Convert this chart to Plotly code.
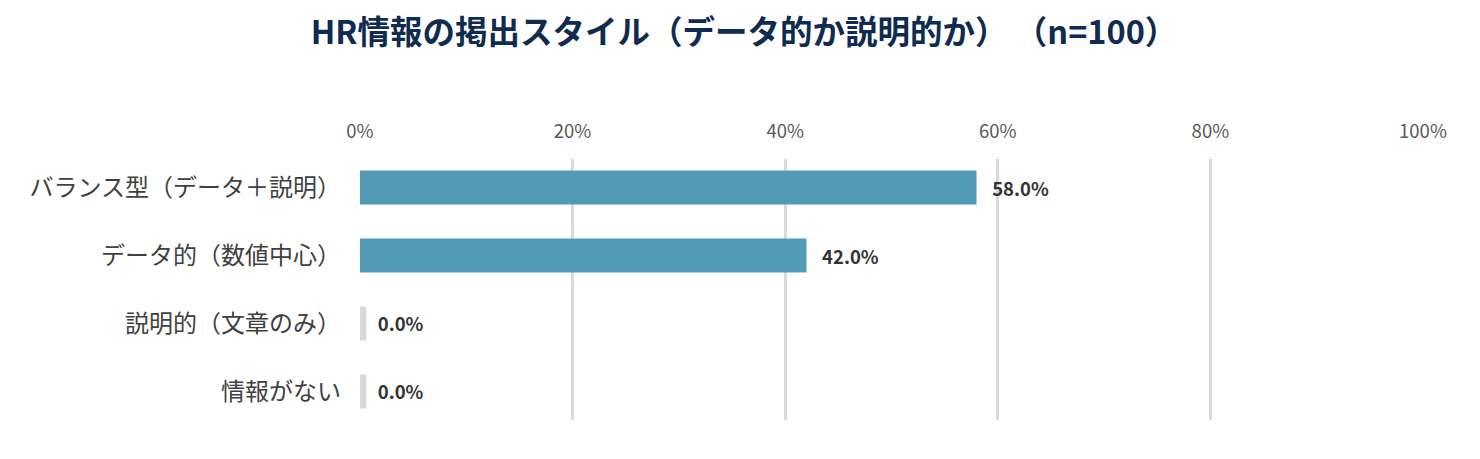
import plotly.graph_objects as go

categories = ["バランス型（データ＋説明）", "データ的（数値中心）", "説明的（文章のみ）", "情報がない"]
values = [58.0, 42.0, 0.0, 0.0]
tick_vals = [0, 20, 40, 60, 80, 100]
tick_text = ["0%", "20%", "40%", "60%", "80%", "100%"]

FONT = "Noto Sans CJK JP"
BAR = "#529BB6"
STUB = "#D9D9D9"

# zero answers still get a thin grey stub like the original
shown = [v if v > 0 else 0.6 for v in values]
colors = [BAR if v > 0 else STUB for v in values]
labels = [f"   {v:.1f}%" if v > 0 else f"  {v:.1f}%" for v in values]

fig = go.Figure()
fig.add_trace(go.Bar(
    y=categories, x=shown, orientation="h",
    marker=dict(color=colors, line=dict(width=0)),
    text=labels, textposition="outside",
    textfont=dict(family=FONT, size=18.5, color="#333333", weight="bold"),
    cliponaxis=False, hoverinfo="skip",
))

# page body has an 8px margin, so the figure is sized to sit inside the window
fig.update_layout(
    width=1472, height=451,
    paper_bgcolor="white", plot_bgcolor="white",
    margin=dict(l=352, r=57, t=151, b=39),
    bargap=0.5,
    showlegend=False,
    font=dict(family=FONT),
    title=dict(
        text="HR情報の掲出スタイル（データ的か説明的か） （n=100）",
        x=0.5, xanchor="center", y=0.945, yanchor="middle",
        font=dict(family=FONT, size=32.5, color="#0F2B4F", weight="bold"),
    ),
    uniformtext=dict(mode="show", minsize=18),
)
fig.update_xaxes(
    side="top", range=[0, 100], tickvals=tick_vals, ticktext=tick_text,
    showgrid=True, gridcolor="#D9D9D9", gridwidth=3,
    zeroline=False, showline=False, ticks="", ticklabelstandoff=16,
    tickfont=dict(family=FONT, size=18.5, color="#595959"),
)
fig.update_yaxes(
    range=[3.42, -0.42], showgrid=False, zeroline=False, showline=False,
    ticks="", ticklabelstandoff=18,
    tickfont=dict(family=FONT, size=24, color="#404040"),
)

fig.write_html("out.html")
